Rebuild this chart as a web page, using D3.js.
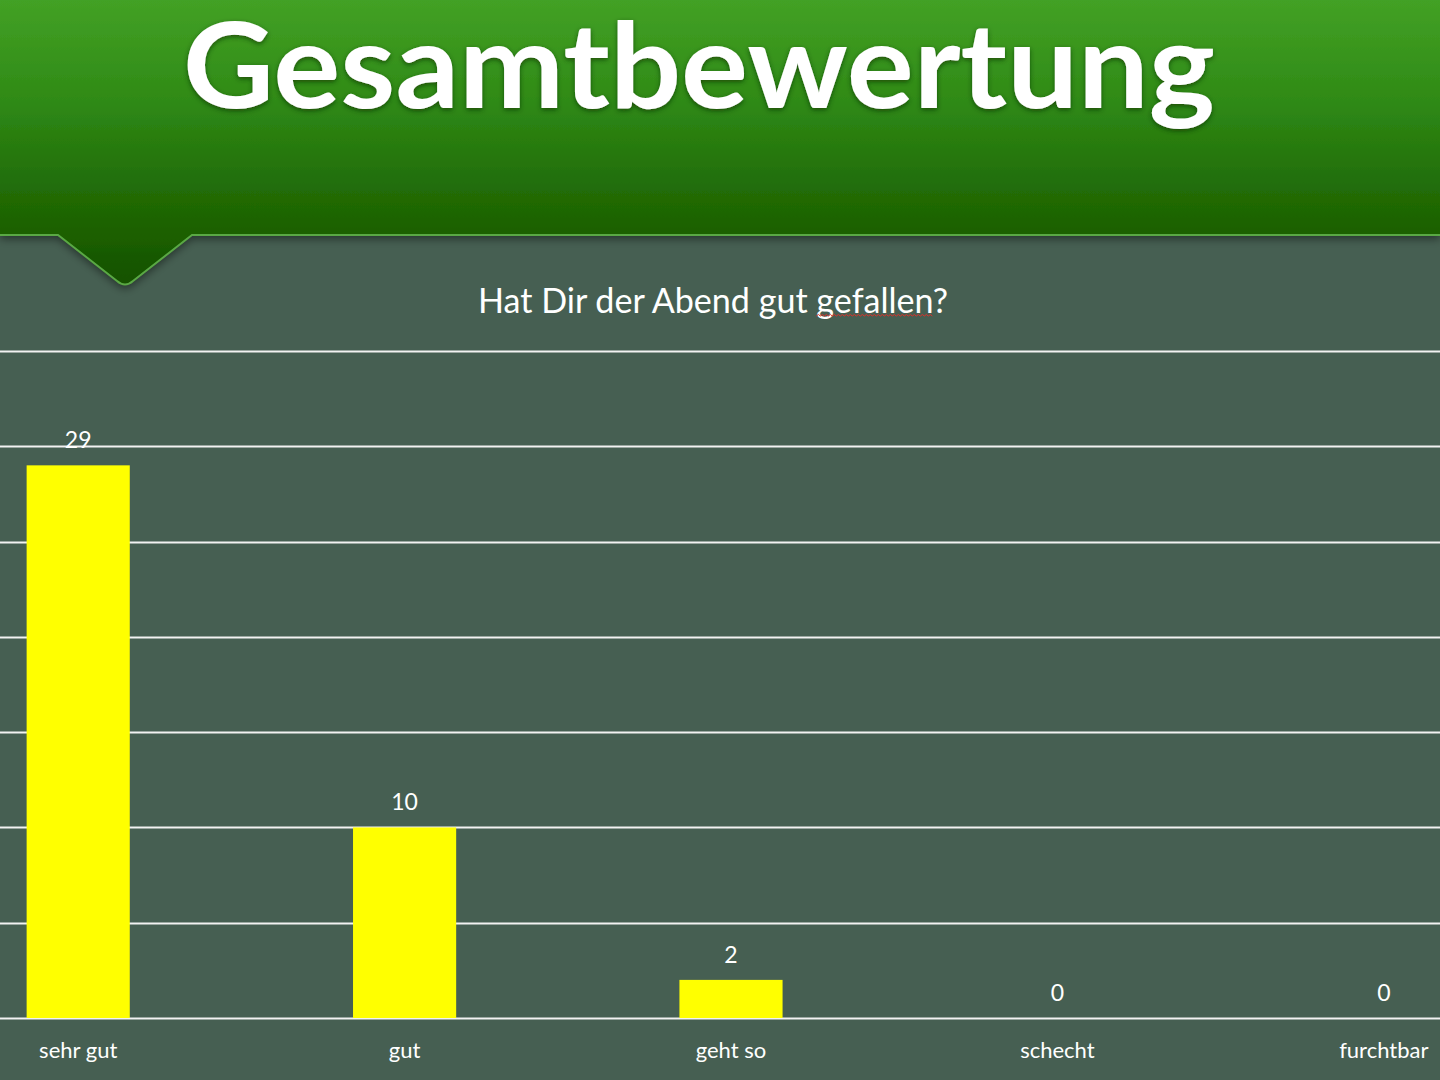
<!DOCTYPE html>
<html>
<head>
<meta charset="utf-8">
<script src="https://cdn.jsdelivr.net/npm/d3@7"></script>
<style>
  html, body { margin: 0; padding: 0; background: #465f52; }
  svg { display: block; }
  text { font-family: "Gill Sans", "Lato", "Open Sans", sans-serif; fill: #ffffff; }
</style>
</head>
<body>
<svg id="chart" width="1440" height="1080"></svg>
<script>
// chart data
const categories = ["sehr gut", "gut", "geht so", "schecht", "furchtbar"];
const votes = [29, 10, 2, 0, 0];
const yTicks = [0, 5, 10, 15, 20, 25, 30, 35];
const slideTitle = "Gesamtbewertung";
const chartTitle = "Hat Dir der Abend gut gefallen?";

const W = 1440, H = 1080;
const svg = d3.select("#chart");

const defs = svg.append("defs");

const grad = defs.append("linearGradient")
    .attr("id", "headerGrad")
    .attr("gradientUnits", "userSpaceOnUse")
    .attr("x1", 0).attr("y1", 0).attr("x2", 0).attr("y2", 287);
grad.append("stop").attr("offset", "0").attr("stop-color", "#43a125");
grad.append("stop").attr("offset", "0.35").attr("stop-color", "#2f8a16");
grad.append("stop").attr("offset", "0.62").attr("stop-color", "#237009");
grad.append("stop").attr("offset", "0.81").attr("stop-color", "#1c6000");
grad.append("stop").attr("offset", "1").attr("stop-color", "#125000");

const shadow = defs.append("filter")
    .attr("id", "headerShadow")
    .attr("x", "-5%").attr("y", "-5%").attr("width", "110%").attr("height", "130%");
shadow.append("feDropShadow")
    .attr("dx", 0).attr("dy", 4).attr("stdDeviation", 4)
    .attr("flood-color", "#000").attr("flood-opacity", 0.45);

const textShadow = defs.append("filter")
    .attr("id", "textShadow")
    .attr("x", "-5%").attr("y", "-10%").attr("width", "110%").attr("height", "130%");
textShadow.append("feDropShadow")
    .attr("dx", 0).attr("dy", 2).attr("stdDeviation", 2.5)
    .attr("flood-color", "#0b3300").attr("flood-opacity", 0.7);

// background
svg.append("rect")
    .attr("width", W).attr("height", H)
    .attr("fill", "#465f52");

// header band with pointer
const headerBottom = 235;
const header = d3.path();
header.moveTo(0, 0);
header.lineTo(W, 0);
header.lineTo(W, headerBottom);
header.lineTo(192, headerBottom);
header.lineTo(133, 281);
header.quadraticCurveTo(125, 288, 117, 281);
header.lineTo(58, headerBottom);
header.lineTo(0, headerBottom);
header.closePath();

svg.append("path")
    .attr("d", header.toString())
    .attr("fill", "url(#headerGrad)")
    .attr("filter", "url(#headerShadow)");

const edge = d3.path();
edge.moveTo(0, headerBottom);
edge.lineTo(58, headerBottom);
edge.lineTo(117, 281);
edge.quadraticCurveTo(125, 288, 133, 281);
edge.lineTo(192, headerBottom);
edge.lineTo(W, headerBottom);
svg.append("path")
    .attr("d", edge.toString())
    .attr("fill", "none")
    .attr("stroke", "#5aa844")
    .attr("stroke-width", 2);

// slide title
const titleText = svg.append("text")
    .attr("x", 699).attr("y", 108)
    .attr("text-anchor", "middle")
    .attr("font-size", 118)
    .attr("font-weight", 700)
    .attr("filter", "url(#textShadow)")
    .text(slideTitle);
titleText.attr("textLength", 1032).attr("lengthAdjust", "spacingAndGlyphs");

// chart title
const sub = svg.append("text")
    .attr("x", 713).attr("y", 313)
    .attr("text-anchor", "middle")
    .attr("font-size", 34)
    .text(chartTitle);
sub.attr("textLength", 470).attr("lengthAdjust", "spacingAndGlyphs");

// spell-check squiggle under "gefallen"
(function () {
    const node = sub.node();
    const idx = chartTitle.indexOf("gefallen");
    const start = node.getStartPositionOfChar(idx);
    const end = node.getEndPositionOfChar(idx + "gefallen".length - 1);
    const yq = 316;
    const p = d3.path();
    p.moveTo(start.x, yq);
    let up = true;
    for (let x = start.x + 2; x <= end.x; x += 2) {
        p.lineTo(x, up ? yq - 1.5 : yq);
        up = !up;
    }
    svg.append("path")
        .attr("d", p.toString())
        .attr("fill", "none")
        .attr("stroke", "#e0302a")
        .attr("stroke-width", 1);
})();

// scales
const x = d3.scaleBand()
    .domain(categories)
    .range([-85, 1547])
    .paddingInner(0.684)
    .paddingOuter(0.342);

const y = d3.scaleLinear()
    .domain([0, 35])
    .range([1018, 351]);

// gridlines
svg.append("g")
    .attr("class", "grid")
    .selectAll("line")
    .data(yTicks)
    .join("line")
    .attr("x1", 0).attr("x2", W)
    .attr("y1", d => Math.round(y(d)) + 0.5)
    .attr("y2", d => Math.round(y(d)) + 0.5)
    .attr("stroke", "#f2f2f2")
    .attr("stroke-width", 2);

// bars
svg.append("g")
    .selectAll("rect")
    .data(categories)
    .join("rect")
    .attr("x", d => x(d))
    .attr("width", x.bandwidth())
    .attr("y", (d, i) => y(votes[i]))
    .attr("height", (d, i) => y(0) - y(votes[i]))
    .attr("fill", "#ffff00");

// value labels
svg.append("g")
    .selectAll("text")
    .data(categories)
    .join("text")
    .attr("x", d => x(d) + x.bandwidth() / 2)
    .attr("y", (d, i) => y(votes[i]) - 17)
    .attr("text-anchor", "middle")
    .attr("font-size", 23)
    .text((d, i) => votes[i]);

// category axis
const xAxis = d3.axisBottom(x).tickSize(0).tickPadding(0);
const gx = svg.append("g")
    .attr("transform", "translate(0,1041)")
    .call(xAxis);
gx.select(".domain").remove();
gx.selectAll("text")
    .attr("dy", "0.75em")
    .attr("font-size", 22)
    .style("font-family", "\"Gill Sans\", \"Lato\", \"Open Sans\", sans-serif")
    .attr("fill", "#ffffff");
</script>
</body>
</html>
